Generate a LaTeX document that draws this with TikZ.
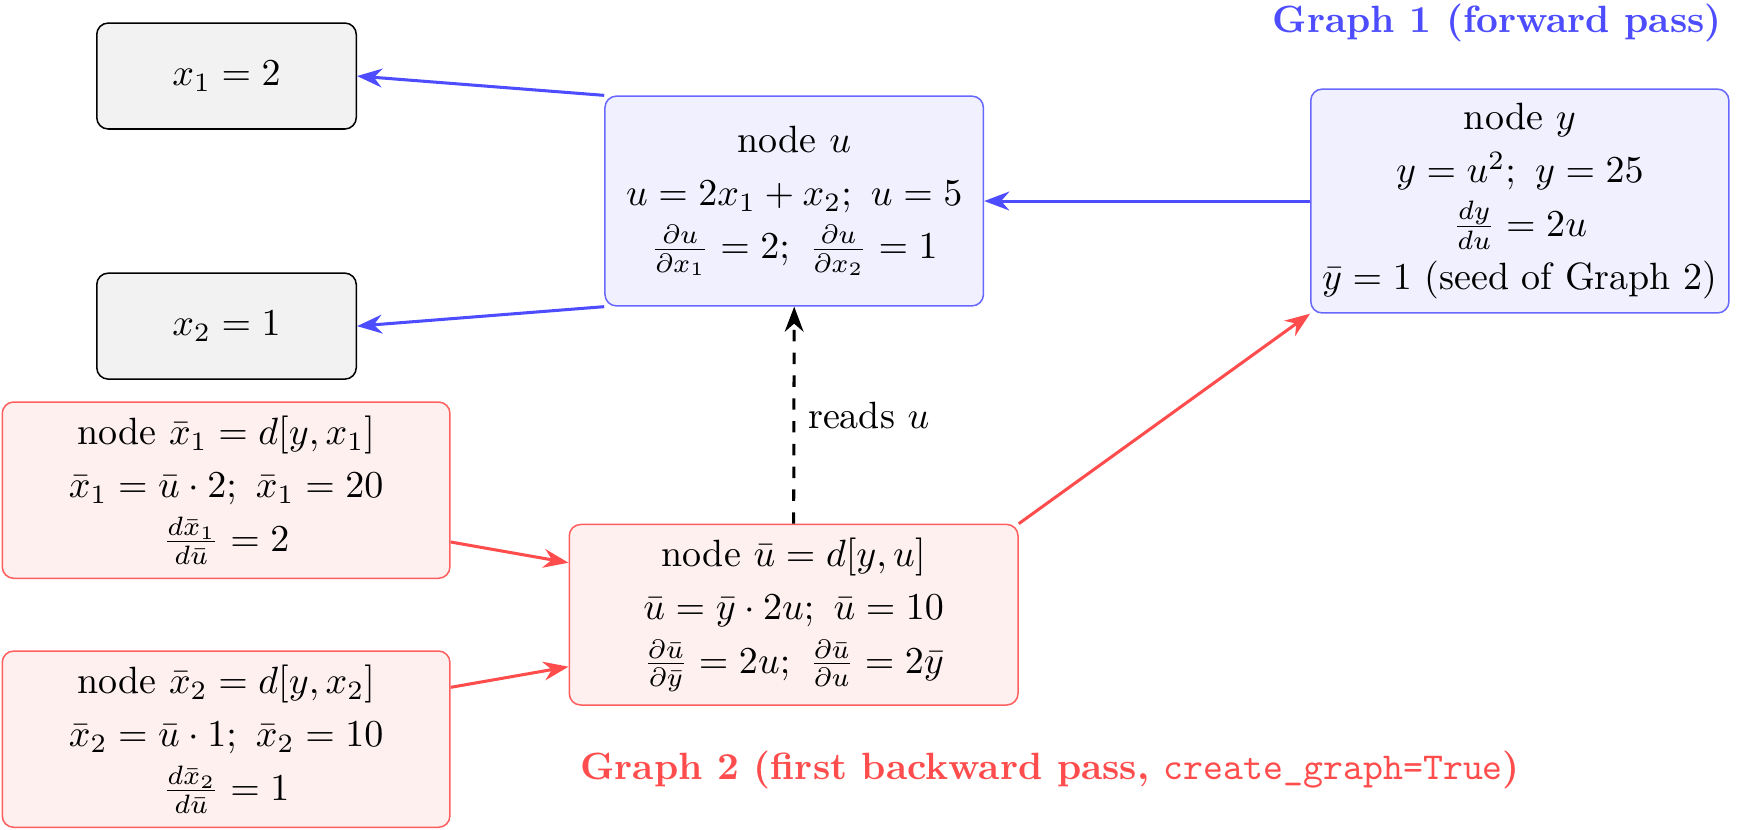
\documentclass[tikz,border=0pt]{standalone}
\usepackage{tikz}
\usetikzlibrary{arrows.meta, positioning}
\usepackage{amsmath, amssymb}
\definecolor{fwdblue}{RGB}{77, 77, 255}
\definecolor{bwdred}{RGB}{255, 77, 77}
\tikzset{
  gnode/.style={rounded corners=3pt, draw, align=center, inner sep=3pt},
  inpnode/.style={gnode, fill=gray!10, draw=black, minimum width=2.4cm, minimum height=0.98cm},
  fwdnode/.style={gnode, fill=blue!6, draw=fwdblue!85},
  bwdnode/.style={gnode, fill=red!6, draw=bwdred!90, minimum width=4.14cm, minimum height=1.63cm},
  fwdarrow/.style={-{Stealth}, thick, fwdblue},
  bwdarrow/.style={-{Stealth}, thick, bwdred},
  readarrow/.style={-{Stealth}, thick, dashed, black},
}

\begin{document}
\begin{tikzpicture}
  \useasboundingbox (0,0) rectangle (16.12,-7.67);
  % graph 1: forward pass
  \node[inpnode] (x1) at (2.095,-0.703) {$x_1 = 2$};
  \node[inpnode] (x2) at (2.095,-3.016) {$x_2 = 1$};
  \node[fwdnode, minimum width=3.5cm, minimum height=1.94cm] (u) at (7.345,-1.859)
    {node $u$\\[2pt] $u = 2x_1 + x_2;\ u = 5$\\[2pt]
     $\frac{\partial u}{\partial x_1} = 2;\ \frac{\partial u}{\partial x_2} = 1$};
  \node[fwdnode, minimum width=3.78cm, minimum height=2.07cm] (y) at (14.056,-1.859)
    {node $y$\\[2pt] $y = u^2;\ y = 25$\\[2pt] $\frac{dy}{du} = 2u$\\[2pt] $\bar{y} = 1$ (seed of Graph 2)};
  % graph 2: first backward pass
  \node[bwdnode] (xb1) at (2.091,-4.533)
    {node $\bar{x}_1 = d[y, x_1]$\\[2pt] $\bar{x}_1 = \bar{u}\cdot 2;\ \bar{x}_1 = 20$\\[2pt] $\frac{d\bar{x}_1}{d\bar{u}} = 2$};
  \node[bwdnode] (xb2) at (2.091,-6.836)
    {node $\bar{x}_2 = d[y, x_2]$\\[2pt] $\bar{x}_2 = \bar{u}\cdot 1;\ \bar{x}_2 = 10$\\[2pt] $\frac{d\bar{x}_2}{d\bar{u}} = 1$};
  \node[bwdnode, minimum width=4.15cm, minimum height=1.67cm] (ub) at (7.340,-5.685)
    {node $\bar{u} = d[y, u]$\\[2pt] $\bar{u} = \bar{y}\cdot 2u;\ \bar{u} = 10$\\[2pt]
     $\frac{\partial \bar{u}}{\partial \bar{y}} = 2u;\ \frac{\partial \bar{u}}{\partial u} = 2\bar{y}$};
  % titles
  \node[anchor=north east, inner sep=0pt, text=fwdblue, font=\bfseries] (g1) at (15.93,-0.03) {Graph 1 (forward pass)};
  \node[text=bwdred, font=\bfseries] (g2) at (9.713,-7.123)
    {Graph 2 (first backward pass, {\mdseries\ttfamily create\_graph=True})};
  % connectors
  \draw[fwdarrow] (u.north west) -- (x1.east);
  \draw[fwdarrow] (u.south west) -- (x2.east);
  \draw[fwdarrow] (y.west) -- (u.east);
  \draw[bwdarrow] (xb1.-13) -- (ub.167);
  \draw[bwdarrow] (xb2.13) -- (ub.193);
  \draw[bwdarrow] (ub.north east) -- (y.south west);
  \draw[readarrow] (ub.north) -- node[right] {reads $u$} (u.south);
\end{tikzpicture}
\end{document}
